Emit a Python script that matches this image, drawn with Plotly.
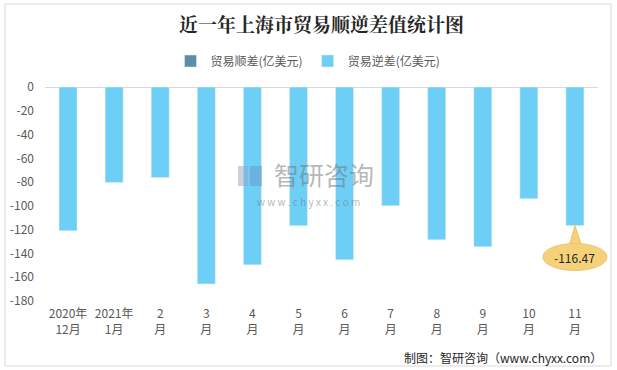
import plotly.graph_objects as go

categories = ["2020年<br>12月", "2021年<br>1月", "2<br>月", "3<br>月", "4<br>月", "5<br>月",
              "6<br>月", "7<br>月", "8<br>月", "9<br>月", "10<br>月", "11<br>月"]
surplus = [None] * 12
deficit = [-120.9, -80.4, -76.2, -165.6, -149.6, -116.7, -145.4, -99.8, -128.5, -134.4, -93.9, -116.47]
y_ticks = [0, -20, -40, -60, -80, -100, -120, -140, -160, -180]
callout_value = "-116.47"

W, H = 617, 370
L, R, T, B = 45, 19, 87, 69
pw, ph = W - L - R, H - T - B
Y_MIN, Y_MAX = -180, 0

def px(x):
    return (x - L) / pw

def py(y):
    return 1 - (y - T) / ph

xs = list(range(len(categories)))
FONT = "Noto Sans CJK SC"
GREY = "#595959"
WM = "rgba(120,120,120,0.55)"

fig = go.Figure()
fig.add_trace(go.Bar(x=xs, y=surplus, name="贸易顺差(亿美元)", marker_color="#5B8FA8", width=0.39))
fig.add_trace(go.Bar(x=xs, y=deficit, name="贸易逆差(亿美元)", marker_color="#6DCFF6", width=0.39))

fig.update_layout(
    width=W, height=H,
    margin=dict(l=L, r=R, t=T, b=B, autoexpand=False),
    paper_bgcolor="white", plot_bgcolor="white",
    barmode="overlay",
    font=dict(family=FONT, size=12, color=GREY),
    title=dict(text="<b>近一年上海市贸易顺逆差值统计图</b>", x=0.5, xref="paper",
               y=1 - 25 / H, yanchor="middle",
               font=dict(family="Noto Serif CJK SC, " + FONT, size=19, color="#262626")),
    legend=dict(orientation="h", x=px(308), xanchor="center", xref="paper",
                y=py(61), yanchor="middle", font=dict(size=12, color=GREY),
                itemwidth=30, tracegroupgap=0),
    showlegend=True,
    xaxis=dict(tickvals=xs, ticktext=categories, range=[-0.5, len(xs) - 0.5],
               showgrid=False, showline=False, zeroline=False, ticks="",
               tickfont=dict(size=12, color=GREY), ticklabelstandoff=4),
    yaxis=dict(range=[Y_MIN, Y_MAX], tickvals=y_ticks, ticktext=[str(v) for v in y_ticks],
               showgrid=False, zeroline=True, zerolinecolor="#D9D9D9", zerolinewidth=1,
               showline=False, ticks="", tickfont=dict(size=12, color=GREY),
               ticklabelstandoff=10),
)

# outer frame
fig.add_shape(type="rect", xref="paper", yref="paper",
              x0=px(5), x1=px(611), y0=py(366), y1=py(4),
              line=dict(color="#D9D9D9", width=1), fillcolor="rgba(0,0,0,0)", layer="below")

# watermark
fig.add_annotation(text="智研咨询", xref="paper", yref="paper", x=px(324), y=py(174),
                   yanchor="middle", showarrow=False, font=dict(size=25, color=WM))
fig.add_annotation(text="w w w . c h y x x . c o m", xref="paper", yref="paper",
                   x=px(308), y=py(201), yanchor="middle", showarrow=False,
                   font=dict(size=10, color=WM))
fig.add_shape(type="rect", xref="paper", yref="paper",
              x0=px(238), x1=px(248), y0=py(186), y1=py(166),
              line=dict(width=0), fillcolor="rgba(150,165,195,0.5)")
fig.add_shape(type="rect", xref="paper", yref="paper",
              x0=px(250), x1=px(262), y0=py(186), y1=py(166),
              line=dict(width=0), fillcolor="rgba(110,150,200,0.5)")

# callout for last bar (paper anchor derived from axis ranges so it is not clipped)
last = xs[-1]
ax_x = (last + 0.5) / len(xs)
ax_y = (deficit[-1] - Y_MIN) / (Y_MAX - Y_MIN)
fig.add_shape(type="path", xref="paper", yref="paper", xsizemode="pixel", ysizemode="pixel",
              xanchor=ax_x, yanchor=ax_y,
              path="M 0 0 L -6 -21 L 7 -21 Z",
              fillcolor="#F5D27A", line=dict(color="#E8C66A", width=1))
fig.add_shape(type="circle", xref="paper", yref="paper", xsizemode="pixel", ysizemode="pixel",
              xanchor=ax_x, yanchor=ax_y,
              x0=-32, x1=32, y0=-45, y1=-18,
              fillcolor="#F5D27A", line=dict(color="#E8C66A", width=1))
fig.add_annotation(text=callout_value, x=last, y=deficit[-1], xref="x", yref="y",
                   showarrow=False, yshift=-32, font=dict(size=12, color="#262626"))

# footer
fig.add_annotation(text="制图：智研咨询（www.chyxx.com）", xref="paper", yref="paper",
                   x=px(604), y=py(357), xanchor="right", yanchor="middle", showarrow=False,
                   font=dict(size=12, color="#262626", family="Noto Sans CJK SC"))

fig.write_html("out.html", config={"displayModeBar": False},
               post_script="document.body.style.margin='0';document.body.style.padding='0';")
